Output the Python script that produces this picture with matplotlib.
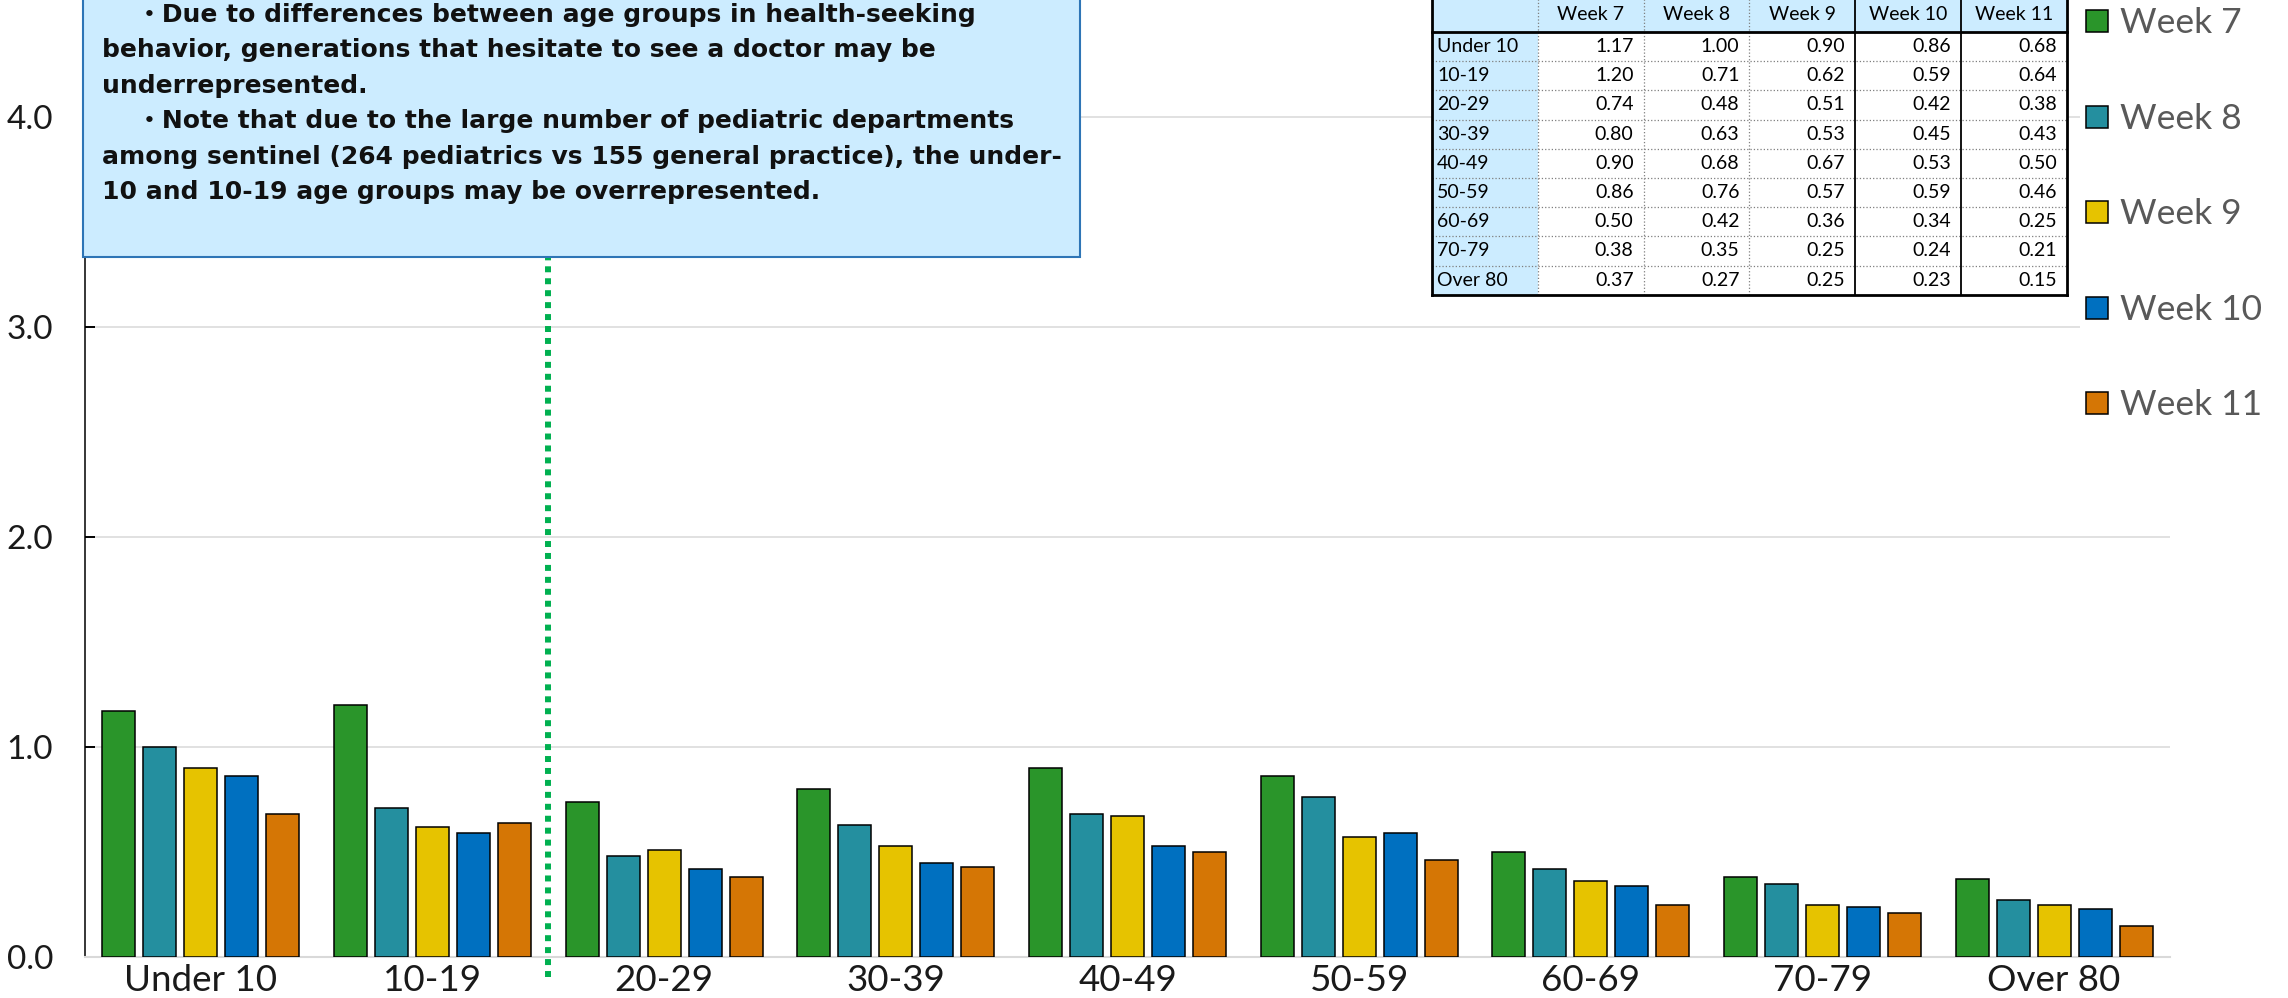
import numpy as np
import matplotlib
matplotlib.use("Agg")
import matplotlib.pyplot as plt
from matplotlib.patches import Rectangle
from matplotlib.lines import Line2D

age_groups = ["Under 10", "10-19", "20-29", "30-39", "40-49",
              "50-59", "60-69", "70-79", "Over 80"]
weeks = ["Week 7", "Week 8", "Week 9", "Week 10", "Week 11"]
week7 = [1.17, 1.20, 0.74, 0.80, 0.90, 0.86, 0.50, 0.38, 0.37]
week8 = [1.00, 0.71, 0.48, 0.63, 0.68, 0.76, 0.42, 0.35, 0.27]
week9 = [0.90, 0.62, 0.51, 0.53, 0.67, 0.57, 0.36, 0.25, 0.25]
week10 = [0.86, 0.59, 0.42, 0.45, 0.53, 0.59, 0.34, 0.24, 0.23]
week11 = [0.68, 0.64, 0.38, 0.43, 0.50, 0.46, 0.25, 0.21, 0.15]
series = [week7, week8, week9, week10, week11]
colors = ["#2A952A", "#248F9F", "#E6C300", "#0070C0", "#D57605"]

note_lines = [
    "    ・Due to differences between age groups in health-seeking",
    "behavior, generations that hesitate to see a doctor may be",
    "underrepresented.",
    "    ・Note that due to the large number of pediatric departments",
    "among sentinel (264 pediatrics vs 155 general practice), the under-",
    "10 and 10-19 age groups may be overrepresented.",
]

W, H = 2288, 998
def fx(x):
    return x / W
def fy(y):
    return 1 - y / H

fig = plt.figure(figsize=(W / 100, H / 100), dpi=100)
ax = fig.add_axes([fx(85), 1 - 957 / H, (2170 - 85) / W, 957 / H])

x = np.arange(len(age_groups))
step = 0.177
bw = 0.1425
for i, vals in enumerate(series):
    ax.bar(x + (i - 2) * step, vals, bw, color=colors[i],
           edgecolor="black", linewidth=1.1, zorder=3, label=weeks[i])

ax.set_xlim(-0.5, len(age_groups) - 0.5)
ax.set_ylim(0, 957 / 210)
ax.set_yticks([0, 1, 2, 3, 4])
ax.set_yticklabels(["0.0", "1.0", "2.0", "3.0", "4.0"])
ax.set_xticks(x)
ax.set_xticklabels(age_groups)
ax.tick_params(axis="x", length=0, pad=5, labelsize=26.5, labelcolor="#1a1a1a")
ax.tick_params(axis="y", direction="in", length=7, width=1.4, pad=23,
               labelsize=24, labelcolor="#1a1a1a")
for lab in ax.get_xticklabels() + ax.get_yticklabels():
    lab.set_family("Lato")
ax.yaxis.grid(True, color="#D9D9D9", linewidth=1.1)
ax.set_axisbelow(True)
for s in ["top", "right"]:
    ax.spines[s].set_visible(False)
ax.spines["left"].set_color("black")
ax.spines["left"].set_linewidth(1.1)
ax.spines["bottom"].set_color("#D9D9D9")
ax.spines["bottom"].set_linewidth(1.5)

# dotted divider between 10-19 and 20-29
ax.plot([1.5, 1.5], [-0.095, 4.5], color="#00B050", linewidth=4.3,
        linestyle=(0, (1, 1)), dash_capstyle="butt", clip_on=False, zorder=4)

# note box
fig.add_artist(Rectangle((fx(83), fy(257)), (1080 - 83) / W, 280 / H,
                         transform=fig.transFigure, facecolor="#CCECFF",
                         edgecolor="#2E75B6", linewidth=1.5, zorder=5))
for k, line in enumerate(note_lines):
    fig.text(fx(102), fy(15 + k * 35.4), line, ha="left", va="center",
             fontsize=18, fontweight="bold", color="#111111",
             family=["DejaVu Sans", "Noto Sans CJK JP"], zorder=6)

# data table
tx0, cw = 1432, 105.8
hb, rh = 32, 29.2
ncol = len(weeks) + 1
tx1 = tx0 + ncol * cw
tb = hb + rh * len(age_groups)
fig.add_artist(Rectangle((fx(tx0), fy(tb)), (tx1 - tx0) / W, (tb + 5) / H,
                         transform=fig.transFigure, facecolor="white",
                         edgecolor="none", zorder=5))
fig.add_artist(Rectangle((fx(tx0), fy(hb)), (tx1 - tx0) / W, (hb + 5) / H,
                         transform=fig.transFigure, facecolor="#CCECFF",
                         edgecolor="none", zorder=5))
fig.add_artist(Rectangle((fx(tx0), fy(tb)), cw / W, (tb - hb) / H,
                         transform=fig.transFigure, facecolor="#CCECFF",
                         edgecolor="none", zorder=5))

def hline(y, x0, x1, **kw):
    fig.add_artist(Line2D([fx(x0), fx(x1)], [fy(y), fy(y)],
                          transform=fig.transFigure, zorder=6, **kw))

def vline(xp, y0, y1, **kw):
    fig.add_artist(Line2D([fx(xp), fx(xp)], [fy(y0), fy(y1)],
                          transform=fig.transFigure, zorder=6, **kw))

for r in range(1, len(age_groups)):
    hline(hb + r * rh, tx0, tx1, color="#7F7F7F", linewidth=0.9, linestyle=":")
for c in range(1, ncol):
    if c >= 4:
        vline(tx0 + c * cw, -5, tb, color="black", linewidth=1.3)
    else:
        vline(tx0 + c * cw, -5, tb, color="#7F7F7F", linewidth=0.9, linestyle=":")
hline(hb, tx0, tx1, color="black", linewidth=2.0)
hline(tb, tx0, tx1, color="black", linewidth=2.0)
vline(tx0, -5, tb, color="black", linewidth=2.0)
vline(tx1, -5, tb, color="black", linewidth=2.0)

tfont = dict(fontsize=14, family="Lato", color="black", zorder=7)
for c, wk in enumerate(weeks):
    fig.text(fx(tx0 + (c + 1.5) * cw), fy(15), wk, ha="center", va="center", **tfont)
for r, grp in enumerate(age_groups):
    yc = hb + (r + 0.5) * rh
    fig.text(fx(tx0 + 5), fy(yc), grp, ha="left", va="center", **tfont)
    for c, vals in enumerate(series):
        fig.text(fx(tx0 + (c + 2) * cw - 10), fy(yc), "%.2f" % vals[r],
                 ha="right", va="center", **tfont)

# legend
leg_y = [21, 117, 212, 308, 403]
fig.add_artist(Rectangle((fx(2080), fy(420)), 208 / W, 425 / H,
                         transform=fig.transFigure, facecolor="white",
                         edgecolor="none", zorder=5))
for i, wk in enumerate(weeks):
    fig.add_artist(Rectangle((fx(2086), fy(leg_y[i] + 11)), 22 / W, 22 / H,
                             transform=fig.transFigure, facecolor=colors[i],
                             edgecolor="black", linewidth=1.1, zorder=6))
    fig.text(fx(2120), fy(leg_y[i] + 2), wk, ha="left", va="center",
             fontsize=25.5, family="Lato", color="#595959", zorder=6)

fig.savefig("out.png", dpi=100)
